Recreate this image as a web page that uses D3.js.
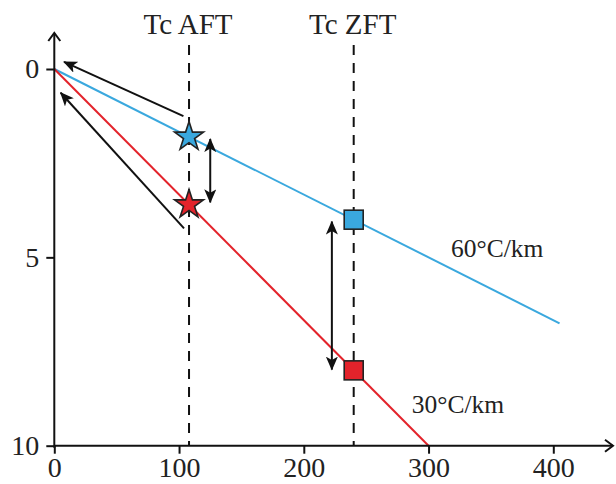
<!DOCTYPE html>
<html><head><meta charset="utf-8">
<script src="https://cdn.jsdelivr.net/npm/d3@7"></script>
<style>html,body{margin:0;padding:0;background:#fff;}svg{display:block;}</style>
</head><body>
<script>
// ---- data ----
const tempTicks = [0, 100, 200, 300, 400];
const depthTicks = [0, 5, 10];
const gradientRates = [60, 30];            // °C/km
const gradientEndTemps = [405, 300];       // °C
const gradientLabels = ["60°C/km", "30°C/km"];
const gradientColors = ["#3aa8de", "#e3232b"];
const closureTemps = [108, 240];           // Tc AFT, Tc ZFT
const closureLabels = ["Tc AFT", "Tc ZFT"];
// exhumation path arrows [start, end] in (temp, depth)
const exhumArrows = [[[103.5, 1.25], [7.8, -0.19]], [[104, 4.23], [5.1, 0.63]]];
// double arrows (temp, depth from, depth to)
const dblArrowTemps = [125, 222.5];
const dblArrowFrom = [1.86, 4.05];
const dblArrowTo = [3.54, 7.98];

const W = 616, H = 484;
const x = d3.scaleLinear().domain([0, 400]).range([54.3, 553.3]);
const y = d3.scaleLinear().domain([0, 10]).range([69, 445.7]);
const FONT = "'Liberation Serif','Times New Roman',serif";

const svg = d3.select("body").append("svg").attr("width", W).attr("height", H);
const defs = svg.append("defs");
defs.append("marker").attr("id", "ah").attr("markerUnits", "userSpaceOnUse")
  .attr("viewBox", "0 -6 14 12").attr("refX", 13).attr("refY", 0)
  .attr("markerWidth", 14).attr("markerHeight", 12).attr("orient", "auto-start-reverse")
  .append("path").attr("d", "M0,-6 L14,0 L0,6 L3.5,0 Z").attr("fill", "#111");

// closure temperature dashed lines
closureTemps.forEach((t, i) => {
  svg.append("line").attr("x1", x(t)).attr("x2", x(t)).attr("y1", 45).attr("y2", y(10))
    .attr("stroke", "#111").attr("stroke-width", 2).attr("stroke-dasharray", "10,8");
  svg.append("text").attr("x", x(t) - 1).attr("y", 34).attr("text-anchor", "middle")
    .attr("font-family", FONT).attr("font-size", 29).attr("fill", "#222").text(closureLabels[i]);
});

// geotherm lines
gradientRates.forEach((r, i) => {
  svg.append("line").attr("x1", x(0)).attr("y1", y(0))
    .attr("x2", x(gradientEndTemps[i])).attr("y2", y(gradientEndTemps[i] / r))
    .attr("stroke", gradientColors[i]).attr("stroke-width", 2);
});

// gradient labels
svg.append("text").attr("x", x(318)).attr("y", y(4.99)).attr("font-family", FONT)
  .attr("font-size", 25.5).attr("fill", "#222").text(gradientLabels[0]);
svg.append("text").attr("x", x(286.5)).attr("y", y(9.14)).attr("font-family", FONT)
  .attr("font-size", 25.5).attr("fill", "#222").text(gradientLabels[1]);

// exhumation arrows
exhumArrows.forEach(a => {
  svg.append("line").attr("x1", x(a[0][0])).attr("y1", y(a[0][1]))
    .attr("x2", x(a[1][0])).attr("y2", y(a[1][1]))
    .attr("stroke", "#111").attr("stroke-width", 2).attr("marker-end", "url(#ah)");
});

// double arrows
dblArrowTemps.forEach((t, i) => {
  svg.append("line").attr("x1", x(t)).attr("x2", x(t)).attr("y1", y(dblArrowFrom[i])).attr("y2", y(dblArrowTo[i]))
    .attr("stroke", "#111").attr("stroke-width", 2)
    .attr("marker-start", "url(#ah)").attr("marker-end", "url(#ah)");
});

// stars at AFT
const star = d3.symbol().type(d3.symbolStar).size(260);
gradientRates.forEach((r, i) => {
  const t = closureTemps[0];
  svg.append("path").attr("d", star()).attr("transform", `translate(${x(t)},${y(t / r)})`)
    .attr("fill", gradientColors[i]).attr("stroke", "#222").attr("stroke-width", 1.6)
    .attr("stroke-linejoin", "miter");
});
// squares at ZFT
gradientRates.forEach((r, i) => {
  const t = closureTemps[1], s = 19;
  svg.append("rect").attr("x", x(t) - s / 2).attr("y", y(t / r) - s / 2).attr("width", s).attr("height", s)
    .attr("fill", gradientColors[i]).attr("stroke", "#222").attr("stroke-width", 1.6);
});

// axes
const xAxis = svg.append("g").attr("transform", `translate(0,${y(10)})`)
  .call(d3.axisBottom(x).tickValues(tempTicks).tickSize(8).tickPadding(4).tickFormat(d3.format("d")));
const yAxis = svg.append("g").attr("transform", `translate(${x(0)},0)`)
  .call(d3.axisLeft(y).tickValues(depthTicks).tickSize(8).tickPadding(7).tickFormat(d3.format("d")));
[xAxis, yAxis].forEach(g => {
  g.select(".domain").remove();
  g.selectAll(".tick line").attr("stroke", "#111").attr("stroke-width", 2);
  g.selectAll(".tick text").attr("font-family", FONT).attr("font-size", 28).attr("fill", "#222");
});
xAxis.selectAll(".tick text").attr("dy", "0.68em");

// axis lines with open arrowheads
svg.append("line").attr("x1", x(0)).attr("x2", 613).attr("y1", y(10)).attr("y2", y(10))
  .attr("stroke", "#111").attr("stroke-width", 2);
svg.append("path").attr("d", `M605,${y(10) - 6} L613,${y(10)} L605,${y(10) + 6}`)
  .attr("fill", "none").attr("stroke", "#111").attr("stroke-width", 2);
svg.append("line").attr("x1", x(0)).attr("x2", x(0)).attr("y1", y(10) + 2).attr("y2", 33)
  .attr("stroke", "#111").attr("stroke-width", 2);
svg.append("path").attr("d", `M${x(0) - 6},41 L${x(0)},33 L${x(0) + 6},41`)
  .attr("fill", "none").attr("stroke", "#111").attr("stroke-width", 2);
</script>
</body></html>
